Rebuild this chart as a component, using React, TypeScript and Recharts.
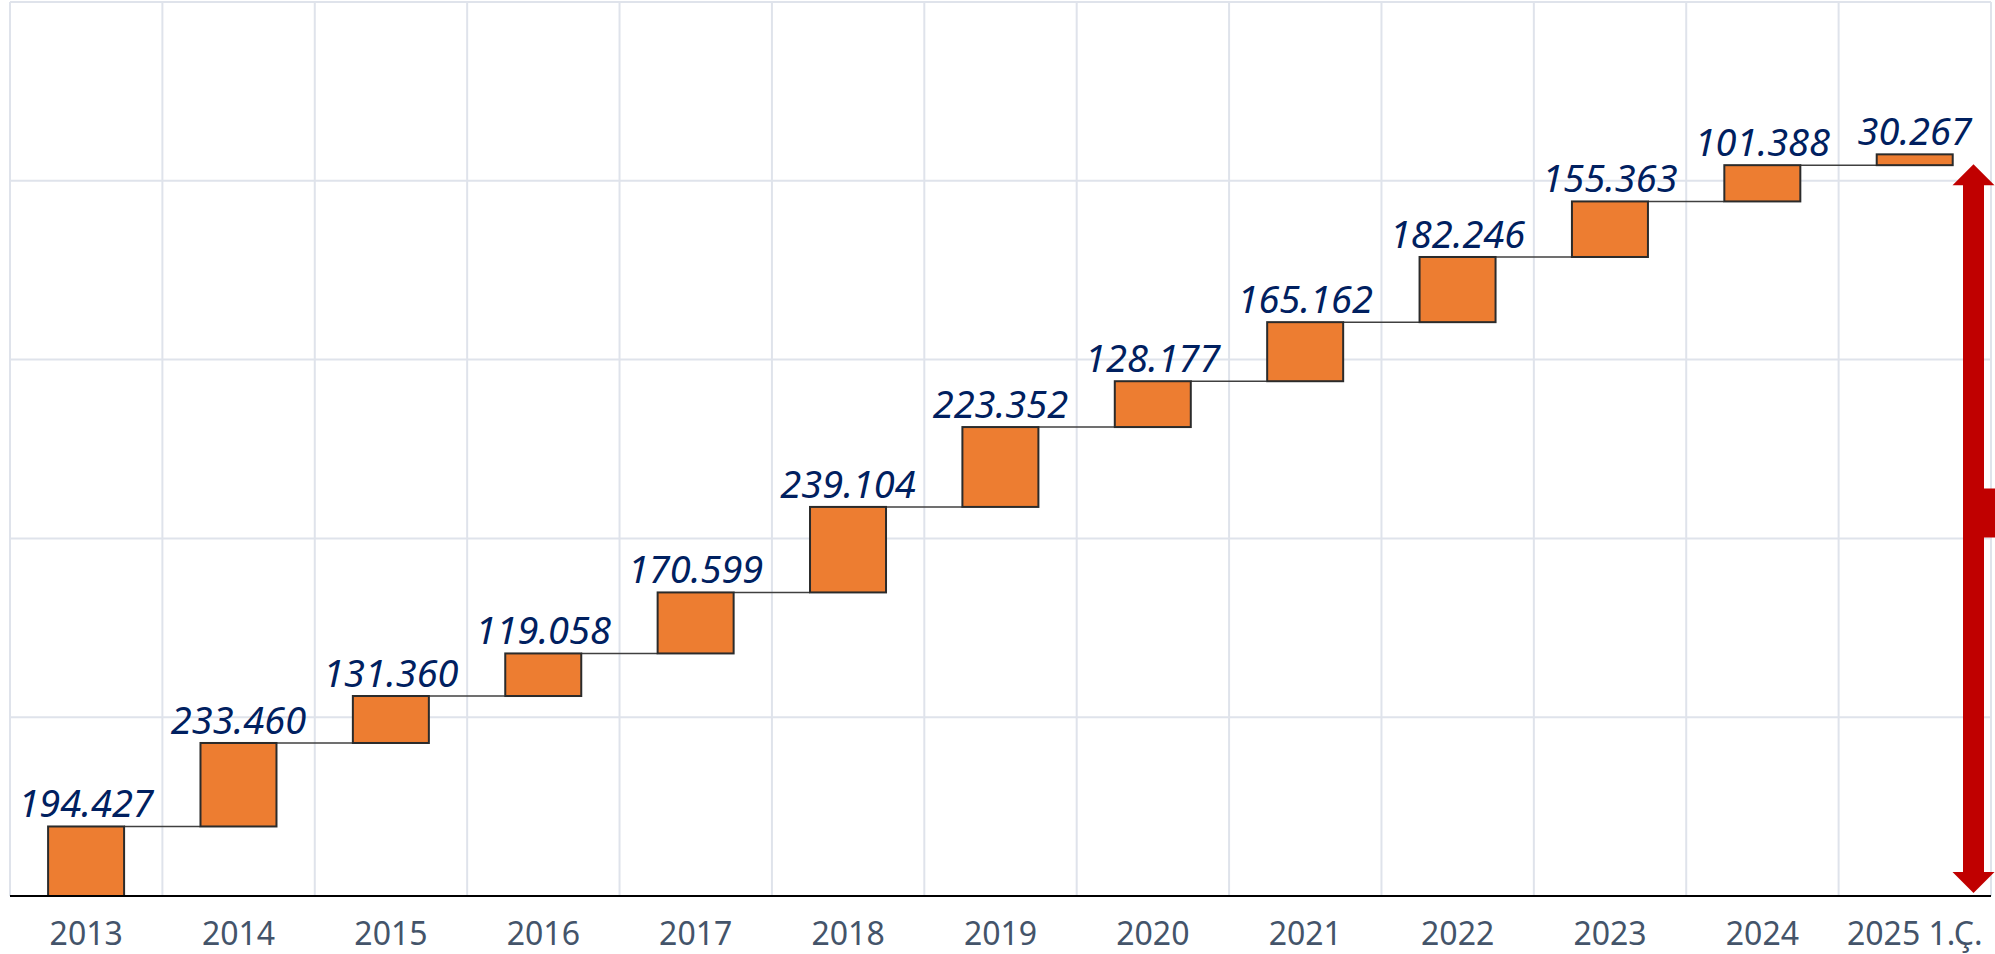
import React from 'react';
import { BarChart, Bar, XAxis, YAxis, CartesianGrid, LabelList, ReferenceLine } from 'recharts';

// yearly increments (waterfall steps)
const years = ['2013', '2014', '2015', '2016', '2017', '2018', '2019', '2020', '2021', '2022', '2023', '2024', '2025 1.Ç.'];
const increments = [194427, 233460, 131360, 119058, 170599, 239104, 223352, 128177, 165162, 182246, 155363, 101388, 30267];
const yTicks = [0, 500000, 1000000, 1500000, 2000000, 2500000];

const total = increments.reduce((s, v) => s + v, 0);

const data = years.map((year, i) => ({
    year,
    base: increments.slice(0, i).reduce((s, v) => s + v, 0),
    value: increments[i],
}));

const fmt = (v: number) => String(v).replace(/\B(?=(\d{3})+(?!\d))/g, '.');

const StepBar = (props: any) => {
    const { x, y, width, height, index } = props;
    const last = index === data.length - 1;
    return (
        <g>
            {!last && (
                <line x1={x + width} y1={y} x2={x + width * 2} y2={y} stroke="#404040" strokeWidth={1.5} />
            )}
            <rect x={x} y={y} width={width} height={height} fill="#ED7D31" stroke="#2b2b2b" strokeWidth={2} />
        </g>
    );
};

// double-headed arrow spanning the cumulative total
const RedArrow = (props: any) => {
    const { x1, y1, y2 } = props;
    const top = Math.min(y1, y2) + 10;
    const bottom = Math.max(y1, y2) - 3;
    const cx = x1 - 17.5;
    const s = 10.5;
    const h = 21;
    const span = bottom - top;
    const nTop = top + span * 0.445;
    const nBot = nTop + span * 0.067;
    const d = [
        `M${cx},${top}`,
        `L${cx + h},${top + h}`,
        `L${cx + s},${top + h}`,
        `L${cx + s},${nTop}`,
        `L${cx + s + 30},${nTop}`,
        `L${cx + s + 30},${nBot}`,
        `L${cx + s},${nBot}`,
        `L${cx + s},${bottom - h}`,
        `L${cx + h},${bottom - h}`,
        `L${cx},${bottom}`,
        `L${cx - h},${bottom - h}`,
        `L${cx - s},${bottom - h}`,
        `L${cx - s},${top + h}`,
        `L${cx - h},${top + h}`,
        'Z',
    ].join(' ');
    return <path d={d} fill="#C00000" stroke="none" />;
};

const App: React.FC = () => {
    return (
        <div style={{ position: 'absolute', left: 0, top: 0, background: '#fff' }}>
            <BarChart
                width={1995}
                height={954}
                data={data}
                margin={{ top: 2, right: 4, left: 10, bottom: 8 }}
                barCategoryGap="25%"
            >
                <CartesianGrid
                    stroke="#dfe3eb"
                    strokeWidth={2}
                    verticalCoordinatesGenerator={({ offset }: any) =>
                        Array.from({ length: years.length + 1 }, (_, i) => offset.left + (i * offset.width) / years.length)
                    }
                />
                <XAxis
                    dataKey="year"
                    interval={0}
                    height={50}
                    tickLine={false}
                    tickMargin={20}
                    axisLine={{ stroke: '#000', strokeWidth: 2 }}
                    tick={{ fill: '#44546A', fontSize: 32, fontFamily: 'Noto Sans' }}
                />
                <YAxis hide domain={[0, 2500000]} ticks={yTicks} />
                <Bar dataKey="base" stackId="a" fill="transparent" isAnimationActive={false} />
                <Bar dataKey="value" stackId="a" shape={StepBar} isAnimationActive={false}>
                    <LabelList
                        dataKey="value"
                        position="top"
                        offset={9}
                        formatter={(v: any) => fmt(Number(v))}
                        style={{ fill: '#002060', fontSize: 38, fontStyle: 'italic', fontFamily: 'Noto Sans' }}
                    />
                </Bar>
                <ReferenceLine
                    segment={[{ x: years[years.length - 1], y: total }, { x: years[years.length - 1], y: 0 }]}
                    position="end"
                    ifOverflow="visible"
                    shape={RedArrow}
                />
            </BarChart>
        </div>
    );
};

export default App;
